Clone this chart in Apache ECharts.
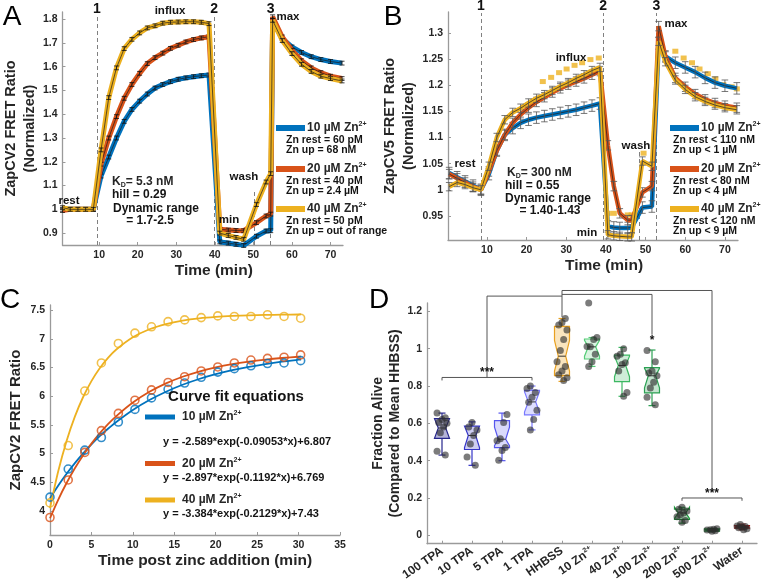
<!DOCTYPE html>
<html>
<head>
<meta charset="utf-8">
<script src="https://cdn.jsdelivr.net/npm/echarts@6/dist/echarts.min.js"></script>
<style>
html,body{margin:0;padding:0;background:#ffffff;}
#chart{width:762px;height:583px;}
</style>
</head>
<body>
<div id="chart"></div>
<script>
// ================= DATA =================
// Panel A (ZapCV2, normalized FRET ratio vs time)
const timeA = [0.5,2.5,4.5,6.5,8.5, 10.5,12.5,14.5,16.5,18.5,20.5,22.5,24.5,26.5,28.5,30.5,32.5,34.5,36.5,38.5, 41.3,43.5,45.5,47.5, 50.8,53.3,54.5, 55,57.5,60,62.5,65,67.5,70,73];
const zn10A = [1.0,1.0,1.0,1.0,1.0, 1.14,1.22,1.30,1.37,1.42,1.455,1.485,1.51,1.525,1.537,1.547,1.553,1.558,1.562,1.565, 0.863,0.858,0.853,0.848, 0.887,0.909,0.91, 1.79,1.718,1.683,1.66,1.642,1.63,1.622,1.615];
const zn20A = [0.995,1.0,1.0,1.0,1.0, 1.19,1.30,1.39,1.467,1.525,1.572,1.613,1.638,1.657,1.677,1.69,1.704,1.714,1.721,1.726, 0.916,0.913,0.911,0.91, 0.944,0.972,0.98, 1.81,1.725,1.669,1.625,1.595,1.575,1.56,1.55];
const zn40A = [1.007,1.0,1.0,1.0,1.0, 1.25,1.47,1.595,1.676,1.715,1.742,1.763,1.772,1.783,1.787,1.788,1.789,1.789,1.787,1.781, 0.90,0.89,0.882,0.874, 1.02,1.115,1.15, 1.795,1.71,1.655,1.61,1.58,1.56,1.55,1.54];
const errA = [0.008, 0.008, 0.008];
const eventsA = [9.4, 39.8, 54.5];
const washA = 50.2;
const xTicksA = [10,20,30,40,50,60,70];
const yTicksA = [0.9,1.0,1.1,1.2,1.3,1.4,1.5,1.6,1.7,1.8];

// Panel B (ZapCV5)
const timeB = [0.5,2.5,4.5,6.5,8.5, 10.5,12.5,14.5,16.5,18.5,20.5,22.5,24.5,26.5,28.5,30.5,32.5,34.5,36.5,38.5, 40.5,42,43.5,45.5,46.5, 49.2,51.6, 53.3,55,57.5,60,62.5,65,67.5,70,73];
const zn10B = [1.032,1.024,1.016,1.008,1.0, 1.03,1.075,1.105,1.118,1.128,1.134,1.138,1.141,1.144,1.147,1.15,1.153,1.157,1.161,1.165, 0.93,0.928,0.927,0.927,0.928, 0.966,0.968, 1.28,1.255,1.243,1.234,1.225,1.214,1.205,1.199,1.194];
const zn20B = [1.03,1.022,1.014,1.006,1.0, 1.035,1.075,1.105,1.128,1.144,1.157,1.168,1.177,1.186,1.194,1.201,1.207,1.213,1.22,1.227, 1.085,1.007,0.955,0.942,0.942, 0.995,1.007, 1.313,1.255,1.214,1.197,1.183,1.173,1.166,1.161,1.157];
const zn40B = [1.006,1.014,1.01,1.004,1.0, 1.045,1.10,1.134,1.148,1.156,1.166,1.175,1.182,1.19,1.198,1.205,1.213,1.22,1.228,1.234, 0.914,0.912,0.911,0.91,0.91, 1.055,1.045, 1.284,1.245,1.21,1.192,1.178,1.169,1.162,1.157,1.153];
const errB = [0.011, 0.009, 0.008];
const capTimeB = [24.1,26.2,28.2,30.1,32.1,34,36.1,38.2, 40.5,42,45.5,46.5, 49.5, 57.5,59.6,61.7,63.6,65.7,67.6,69.6,71.7,73];
const capValB  = [1.207,1.215,1.224,1.231,1.238,1.243,1.249,1.252, 0.955,0.955,0.952,0.952, 1.07, 1.265,1.252,1.243,1.231,1.222,1.212,1.201,1.197,1.193];
const eventsB = [8.5, 39.3, 52.7];
const washB = 48.5;
const xTicksB = [10,20,30,40,50,60,70];
const yTicksB = [0.95,1.0,1.05,1.1,1.15,1.2,1.25,1.3];

// Panel C (ZapCV2 ratio after zinc addition, points + fitted curves)
const timeC = [0,2.2,4.2,6.2,8.25,10.25,12.25,14.25,16.25,18.25,20.25,22.25,24.25,26.25,28.25,30.25];
const zn10C = [4.24,4.73,5.06,5.28,5.55,5.77,5.97,6.12,6.23,6.33,6.42,6.48,6.53,6.57,6.58,6.62];
const zn20C = [3.885,4.54,5.02,5.40,5.70,5.93,6.11,6.24,6.34,6.44,6.51,6.58,6.63,6.66,6.68,6.72];
const zn40C = [4.14,5.14,6.09,6.58,6.92,7.10,7.21,7.30,7.33,7.37,7.40,7.39,7.39,7.42,7.39,7.36];
const fitTimeC = [0,1,2,3,4,5,6,7,8,10,12,14,16,18,20,22,24,26,28,30,30.3];
const fit10C = [4.218,4.442,4.647,4.834,5.004,5.160,5.303,5.432,5.551,5.760,5.933,6.078,6.199,6.300,6.384,6.454,6.512,6.561,6.602,6.636,6.640];
const fit20C = [3.872,4.198,4.486,4.743,4.971,5.173,5.352,5.511,5.652,5.889,6.076,6.223,6.339,6.430,6.502,6.559,6.603,6.638,6.666,6.688,6.691];
const fit40C = [4.046,4.695,5.220,5.645,5.986,6.263,6.487,6.668,6.814,7.027,7.167,7.258,7.318,7.357,7.382,7.399,7.410,7.417,7.421,7.424,7.425];
const fitLabelsC = ['y = -2.589*exp(-0.09053*x)+6.807','y = -2.897*exp(-0.1192*x)+6.769','y = -3.384*exp(-0.2129*x)+7.43'];
const xTicksC = [0,5,10,15,20,25,30,35];
const yTicksC = [4,4.5,5,5.5,6,6.5,7,7.5];

// Panel D (fraction alive, notched box plots)
const dCategories = ['100 TPA','10 TPA','5 TPA','1 TPA','HHBSS','10 Zn2+','40 Zn2+','100 Zn2+','200 Zn2+','500 Zn2+','Water'];
// [min, q1, notchLow, median, notchHigh, q3, max]
const dStats = [
  [0.43,0.52,0.52,0.575,0.625,0.625,0.655],
  [0.375,0.46,0.47,0.535,0.585,0.585,0.608],
  [0.40,0.47,0.48,0.515,0.58,0.615,0.655],
  [0.565,0.645,0.66,0.715,0.77,0.777,0.80],
  [0.825,0.856,0.88,0.96,1.045,1.12,1.162],
  [0.905,0.945,0.96,1.01,1.045,1.052,1.06],
  [0.745,0.824,0.85,0.91,0.96,0.966,1.007],
  [0.695,0.763,0.79,0.855,0.895,0.899,0.993],
  [0.065,0.085,0.09,0.12,0.15,0.14,0.15],
  [0.02,0.022,0.024,0.028,0.033,0.035,0.037],
  [0.03,0.038,0.04,0.045,0.05,0.052,0.06]
];
const dPoints = [
  [0.655,0.63,0.62,0.605,0.60,0.58,0.55,0.45,0.43],
  [0.605,0.58,0.565,0.535,0.49,0.42,0.375],
  [0.647,0.604,0.518,0.507,0.47,0.455,0.402],
  [0.80,0.787,0.766,0.74,0.713,0.67,0.62,0.565],
  [1.162,1.14,1.127,1.10,1.05,0.99,0.93,0.905,0.88,0.86,0.845,0.83],
  [1.245,1.06,1.05,1.01,1.012,0.97,0.93,0.905],
  [1.0,0.97,0.96,0.925,0.915,0.88,0.765,0.745],
  [0.99,0.93,0.88,0.87,0.855,0.82,0.79,0.74,0.70],
  [0.15,0.14,0.13,0.12,0.11,0.10,0.08,0.07],
  [0.035,0.032,0.03,0.028,0.025,0.022],
  [0.058,0.05,0.047,0.043,0.04,0.035,0.03]
];
// significance brackets: paths in (category index, value)
const dBrackets = [
  [[0,0.83],[0,0.846],[3,0.846],[3,0.83]],
  [[1.5,0.846],[1.5,1.282],[4,1.282]],
  [[4,1.17],[4,1.312],[9,1.312],[9,0.235]],
  [[4,1.291],[7,1.291],[7,1.075]],
  [[8,0.185],[8,0.2],[10,0.2],[10,0.185]]
];
const dStars = [[1.5,0.872,'***'],[7,1.045,'*'],[9,0.224,'***']];
const yTicksD = [0,0.2,0.4,0.6,0.8,1.0,1.2];

// ================= STYLE =================
const F = '"Liberation Sans", Arial, Helvetica, sans-serif';
const INK = '#262626';
const BLUE = '#0072BD', ORANGE = '#D95319', YELLOW = '#EDB120';
const COLORS = [BLUE, ORANGE, YELLOW];
const boxColors = [
  {s:'#26268c', f:'rgba(38,38,140,0.35)'},
  {s:'#3434c8', f:'rgba(52,52,200,0.25)'},
  {s:'#5656ee', f:'rgba(86,86,238,0.22)'},
  {s:'#7878ff', f:'rgba(120,120,255,0.25)'},
  {s:'#e8a020', f:'rgba(240,170,40,0.30)'},
  {s:'#55cc77', f:'rgba(85,204,119,0.22)'},
  {s:'#3cb862', f:'rgba(60,184,98,0.25)'},
  {s:'#2aa052', f:'rgba(42,160,82,0.28)'},
  {s:'#1c9a3c', f:'rgba(28,154,60,0.35)'},
  {s:'#128a32', f:'rgba(18,138,50,0.45)'},
  {s:'#a81818', f:'rgba(168,24,24,0.35)'}
];
const fmtNum = v => String(+(+v).toFixed(2));

function ax(g, min, max, ticks, fmt, extra) {
  return Object.assign({
    gridIndex: g, type: 'value', min: min, max: max,
    splitLine: {show: false},
    axisLine: {show: true, onZero: false, lineStyle: {color: '#9a9a9a', width: 1.3}},
    axisTick: {show: true, inside: true, length: 3, customValues: ticks, lineStyle: {color: '#9a9a9a'}},
    axisLabel: {customValues: ticks, formatter: fmt, color: INK, fontFamily: F, fontWeight: 'bold', fontSize: 10.5, margin: 5},
    nameLocation: 'middle'
  }, extra || {});
}
function nameStyle(size, lh, pad) {
  return {color: INK, fontFamily: F, fontWeight: 'bold', fontSize: size, lineHeight: lh, padding: pad || 0};
}

function pairs(t, v) { return t.map((x, i) => [x, v[i]]); }

function lineSer(xi, data, color, width, z, extra) {
  return Object.assign({type: 'line', xAxisIndex: xi, yAxisIndex: xi, data: data, symbol: 'none', silent: true, z: z,
    lineStyle: {color: color, width: width}, itemStyle: {color: color}}, extra || {});
}
function errSer(xi, data, err, color, capW, z) {
  return {type: 'custom', xAxisIndex: xi, yAxisIndex: xi, data: data, z: z, silent: true, encode: {x: 0, y: 1},
    renderItem: function (p, api) {
      const x = api.value(0), y = api.value(1);
      const a = api.coord([x, y + err]), b = api.coord([x, y - err]);
      const st = {stroke: color, lineWidth: 0.8};
      return {type: 'group', children: [
        {type: 'line', shape: {x1: a[0], y1: a[1], x2: b[0], y2: b[1]}, style: st},
        {type: 'line', shape: {x1: a[0] - capW, y1: a[1], x2: a[0] + capW, y2: a[1]}, style: st},
        {type: 'line', shape: {x1: b[0] - capW, y1: b[1], x2: b[0] + capW, y2: b[1]}, style: st}
      ]};
    }};
}
function eventMarks(events, wash, ymin, yEventTop, yWashTop, labDist) {
  const names = ['1', '2', '3'];
  const data = events.map((t, i) => [{coord: [t, ymin], name: names[i]}, {coord: [t, yEventTop]}]);
  data.push([{coord: [wash, ymin], name: '', label: {show: false}}, {coord: [wash, yWashTop]}]);
  return {silent: true, symbol: ['none', 'none'], animation: false,
    lineStyle: {color: '#808080', type: [4, 3], width: 1},
    label: {show: true, position: 'end', formatter: p => p.name, color: '#111', fontFamily: F, fontWeight: 'bold', fontSize: 14, distance: labDist},
    data: data};
}

// ================= SERIES =================
const series = [];
const A = [zn10A, zn20A, zn40A], B = [zn10B, zn20B, zn40B];
A.forEach((vals, k) => {
  const d = pairs(timeA, vals);
  series.push(lineSer(0, d, COLORS[k], 5, 10 + k * 3, k === 0 ? {markLine: eventMarks(eventsA, washA, 0.85, 1.81, 1.08, 1)} : {}));
  series.push(lineSer(0, d, '#1e1e1e', 0.7, 11 + k * 3));
  series.push(errSer(0, d, errA[k], '#111', 2.5, 12 + k * 3));
});
B.forEach((vals, k) => {
  const d = pairs(timeB, vals);
  series.push(lineSer(1, d, COLORS[k], 4.5, 10 + k * 3, k === 0 ? {markLine: eventMarks(eventsB, washB, 0.904, 1.338, 1.077, 0)} : {}));
  series.push(lineSer(1, d, '#1e1e1e', 0.7, 11 + k * 3));
  series.push(errSer(1, d, errB[k], '#555', 3.3, 12 + k * 3));
});
series.push({type: 'scatter', xAxisIndex: 1, yAxisIndex: 1, data: pairs(capTimeB, capValB), symbol: 'rect', symbolSize: [6, 5], itemStyle: {color: YELLOW}, silent: true, z: 9});

const C = [zn10C, zn20C, zn40C], CF = [fit10C, fit20C, fit40C];
C.forEach((vals, k) => {
  series.push(lineSer(2, pairs(fitTimeC, CF[k]), COLORS[k], 1.8, 10, {smooth: 0.3}));
  series.push({type: 'scatter', xAxisIndex: 2, yAxisIndex: 2, data: pairs(timeC, vals), symbol: 'circle', symbolSize: 8, silent: true, z: 11,
    itemStyle: {color: 'rgba(255,255,255,0)', borderColor: COLORS[k], borderWidth: 1.6}});
});

// D: notched boxes
series.push({type: 'custom', xAxisIndex: 3, yAxisIndex: 3, silent: true, z: 5,
  data: dStats.map((s, i) => [i].concat(s)),
  encode: {x: 0, y: [1, 2, 3, 4, 5, 6, 7]},
  renderItem: function (p, api) {
    const i = api.value(0);
    const c = boxColors[p.dataIndex];
    const X = api.coord([i, 0])[0];
    const Y = k => api.coord([i, api.value(k)])[1];
    const mn = Y(1), q1 = Y(2), nl = Y(3), md = Y(4), nh = Y(5), q3 = Y(6), mx = Y(7);
    const hw = 7.5, ind = 3.8, cap = 3.5;
    const L = X - hw, R = X + hw;
    const st = {stroke: c.s, lineWidth: 1.2, fill: null};
    return {type: 'group', children: [
      {type: 'line', shape: {x1: X, y1: q3, x2: X, y2: mx}, style: st},
      {type: 'line', shape: {x1: X, y1: q1, x2: X, y2: mn}, style: st},
      {type: 'line', shape: {x1: X - cap, y1: mx, x2: X + cap, y2: mx}, style: st},
      {type: 'line', shape: {x1: X - cap, y1: mn, x2: X + cap, y2: mn}, style: st},
      {type: 'polygon', shape: {points: [[L, q3], [R, q3], [R, nh], [R - ind, md], [R, nl], [R, q1], [L, q1], [L, nl], [L + ind, md], [L, nh]]},
        style: {fill: c.f, stroke: c.s, lineWidth: 1.2}},
      {type: 'line', shape: {x1: L + ind, y1: md, x2: R - ind, y2: md}, style: {stroke: '#333', lineWidth: 1}}
    ]};
  }});
// D: individual points (deterministic spread around each category)
const dPointData = [];
dPoints.forEach((vals, i) => vals.forEach((v, j) => {
  const off = (((j * 5 + i * 3) % 7) - 3) * 0.055;
  dPointData.push([i + off, v]);
}));
series.push({type: 'scatter', xAxisIndex: 3, yAxisIndex: 3, data: dPointData, symbolSize: 7, silent: true, z: 8,
  itemStyle: {color: 'rgba(45,45,45,0.78)'}});
// D: significance brackets
series.push({type: 'custom', xAxisIndex: 3, yAxisIndex: 3, silent: true, z: 7, clip: false,
  data: [[0, 0]],
  renderItem: function (p, api) {
    const ch = [];
    dBrackets.forEach(path => {
      ch.push({type: 'polyline', shape: {points: path.map(pt => api.coord(pt))}, style: {stroke: '#555', lineWidth: 1, fill: null}});
    });
    dStars.forEach(s => {
      const c = api.coord([s[0], s[1]]);
      ch.push({type: 'text', style: {x: c[0], y: c[1], text: s[2], fill: '#111', font: 'bold 12px ' + F, align: 'center', verticalAlign: 'middle'}});
    });
    return {type: 'group', children: ch};
  }});

// ================= GRAPHIC TEXT =================
function T(x, y, text, size, o) {
  o = o || {};
  const st = {text: text, fill: o.fill || '#141414', fontSize: size, fontWeight: o.weight || 'bold', fontFamily: F,
    align: o.align || 'center', verticalAlign: 'middle', textAlign: o.align || 'center', textVerticalAlign: 'middle'};
  if (o.rich) st.rich = o.rich;
  return {type: 'text', x: x, y: y, silent: true, z: 100, style: st};
}
function supRich(size) {
  const ss = Math.round(size * 0.62);
  return {
    m: {fontSize: size, fontWeight: 'bold', fontFamily: F, fill: INK, color: INK, lineHeight: size + 2, verticalAlign: 'middle'},
    s: {fontSize: ss, fontWeight: 'bold', fontFamily: F, fill: INK, color: INK, lineHeight: ss, verticalAlign: 'top'},
    d: {fontSize: ss, fontWeight: 'bold', fontFamily: F, fill: INK, color: INK, lineHeight: ss, verticalAlign: 'bottom'}
  };
}
const R12 = supRich(12);
const g = [];
// panel letters
g.push(T(12, 17, 'A', 28, {weight: 'normal', fill: '#000'}));
g.push(T(393, 17, 'B', 28, {weight: 'normal', fill: '#000'}));
g.push(T(10, 300, 'C', 28, {weight: 'normal', fill: '#000'}));
g.push(T(379, 300, 'D', 28, {weight: 'normal', fill: '#000'}));
// A annotations
g.push(T(69, 201, 'rest', 11.5));
g.push(T(170, 11, 'influx', 11.5));
g.push(T(229, 220, 'min', 11.5));
g.push(T(244, 177, 'wash', 11.5));
g.push(T(288, 17, 'max', 11.5));
g.push(T(112, 182, '{m|K}{d|D}{m|= 5.3 nM}', 12, {align: 'left', rich: R12}));
g.push(T(112, 195, 'hill = 0.29', 12, {align: 'left'}));
g.push(T(113, 209, 'Dynamic range', 12, {align: 'left'}));
g.push(T(150, 221, '= 1.7-2.5', 12));
// B annotations
g.push(T(465, 164, 'rest', 11.5));
g.push(T(571, 58, 'influx', 11.5));
g.push(T(676, 24, 'max', 11.5));
g.push(T(636, 146, 'wash', 11.5));
g.push(T(587, 233, 'min', 11.5));
g.push(T(507, 173, '{m|K}{d|D}{m|= 300 nM}', 12, {align: 'left', rich: R12}));
g.push(T(505, 186, 'hill = 0.55', 12, {align: 'left'}));
g.push(T(505, 199, 'Dynamic range', 12, {align: 'left'}));
g.push(T(550, 211, '= 1.40-1.43', 12));
// legends A & B
const legA = [['10 µM', 'Zn rest = 60 pM', 'Zn up = 68 nM'], ['20 µM', 'Zn rest = 40 pM', 'Zn up = 2.4 µM'], ['40 µM', 'Zn rest = 50 pM', 'Zn up = out of range']];
const legB = [['10 µM', 'Zn rest < 110 nM', 'Zn up < 1 µM'], ['20 µM', 'Zn rest < 80 nM', 'Zn up < 4 µM'], ['40 µM', 'Zn rest < 120 nM', 'Zn up < 9 µM']];
const legRowsY = [128, 169, 209];
function legend(x0, entries, subX) {
  entries.forEach((e, k) => {
    const y = legRowsY[k];
    g.push({type: 'rect', silent: true, z: 100, shape: {x: x0, y: y - 3, width: 29, height: 6}, style: {fill: COLORS[k]}});
    g.push(T(x0 + 31, y, '{m|' + e[0] + ' Zn}{s|2+}', 12, {align: 'left', rich: R12}));
    g.push(T(subX, y + 12, e[1], 10.5, {align: 'left'}));
    g.push(T(subX, y + 22.5, e[2], 10.5, {align: 'left'}));
  });
}
legend(276, legA, 286);
legend(670, legB, 673);
// C legend
g.push(T(236, 397, 'Curve fit equations', 15));
const legCY = [417, 463.5, 500];
['10 µM', '20 µM', '40 µM'].forEach((lab, k) => {
  const y = legCY[k];
  g.push({type: 'rect', silent: true, z: 100, shape: {x: 145, y: y - 2.5, width: 30, height: 5}, style: {fill: COLORS[k]}});
  g.push(T(182, y, '{m|' + lab + ' Zn}{s|2+}', 12, {align: 'left', rich: R12}));
  g.push(T(163, y + 24.5 - (k === 0 ? 0 : 10.5), fitLabelsC[k], 11, {align: 'left'}));
});

// ================= OPTION =================
const chart = echarts.init(document.getElementById('chart'), null, {renderer: 'canvas'});
const option = {
  animation: false,
  backgroundColor: '#ffffff',
  textStyle: {fontFamily: F},
  grid: [
    {left: 52, top: 12, width: 291, height: 233},
    {left: 448, top: 12, width: 290, height: 228},
    {left: 50, top: 305, width: 290, height: 230},
    {left: 427, top: 303, width: 330, height: 242}
  ],
  xAxis: [
    ax(0, 0.5, 73.25, xTicksA, fmtNum, {name: 'Time (min)', nameGap: 17, nameTextStyle: nameStyle(15.5, 18, [0, 0, 0, 22])}),
    ax(1, 0.2, 73.3, xTicksB, fmtNum, {name: 'Time (min)', nameGap: 17, nameTextStyle: nameStyle(15.5, 18, [0, 0, 0, 22])}),
    ax(2, 0, 35, xTicksC, fmtNum, {name: 'Time post zinc addition (min)', nameGap: 17, nameTextStyle: nameStyle(15.5, 18, [0, 0, 0, 20])}),
    ax(3, -0.5, 10.5, [0,1,2,3,4,5,6,7,8,9,10], function (v) {
      const lab = dCategories[Math.round(v)] || '';
      return lab.indexOf('Zn2+') >= 0 ? '{b|' + lab.replace('Zn2+', 'Zn') + '}{s|2+}' : '{b|' + lab + '}';
    }, {})
  ],
  yAxis: [
    ax(0, 0.85, 1.83, yTicksA, fmtNum, {name: 'ZapCV2 FRET Ratio\n(Normalized)', nameGap: 20, nameRotate: 90, nameTextStyle: nameStyle(14.5, 19)}),
    ax(1, 0.904, 1.34, yTicksB, fmtNum, {name: 'ZapCV5 FRET Ratio\n(Normalized)', nameGap: 28, nameRotate: 90, nameTextStyle: nameStyle(14.5, 19)}),
    ax(2, 3.58, 7.59, yTicksC, fmtNum, {name: 'ZapCV2 FRET Ratio', nameGap: 25, nameRotate: 90, nameTextStyle: nameStyle(15, 18)}),
    ax(3, -0.045, 1.245, yTicksD, fmtNum, {name: 'Fraction Alive\n(Compared to Mean HHBSS)', nameGap: 19, nameRotate: 90, nameTextStyle: nameStyle(14, 17)})
  ],
  series: series,
  graphic: {elements: g}
};
// D x labels: rotated with superscripts
option.xAxis[3].axisLabel.rotate = 35;
option.xAxis[3].axisLabel.fontSize = 12;
option.xAxis[3].axisLabel.margin = 6;
option.xAxis[3].axisLabel.rich = {
  b: {fontSize: 12, fontWeight: 'bold', fontFamily: F, color: INK, lineHeight: 14, verticalAlign: 'middle'},
  s: {fontSize: 7, fontWeight: 'bold', fontFamily: F, color: INK, verticalAlign: 'top', lineHeight: 7}
};
chart.setOption(option);
</script>
</body>
</html>
